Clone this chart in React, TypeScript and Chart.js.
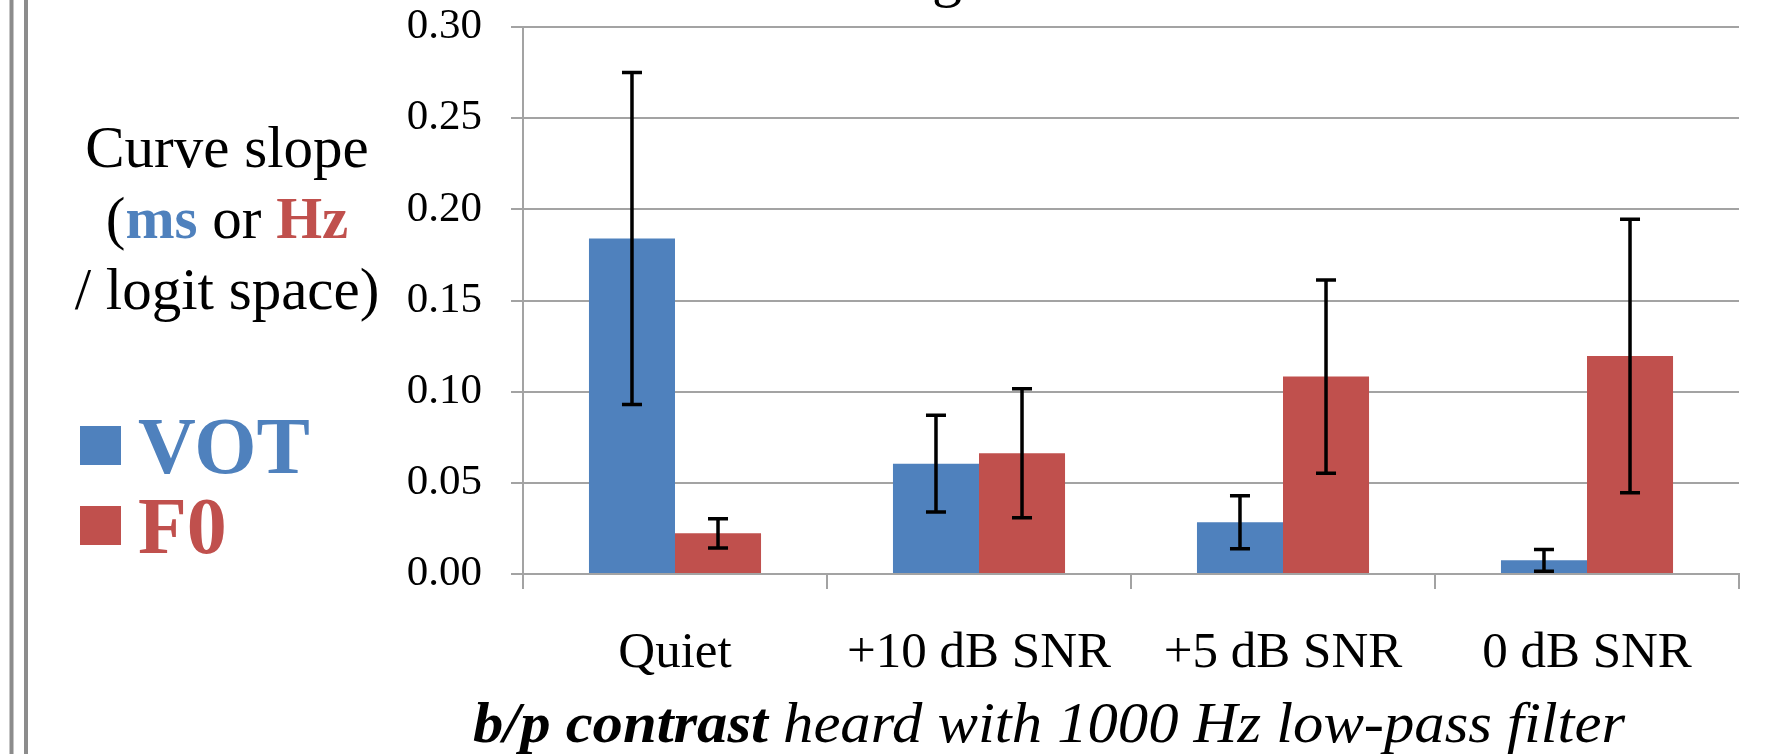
import React, { useEffect, useRef } from "react";
import { Chart, registerables } from "chart.js";

Chart.register(...registerables);

const categories = ["Quiet", "+10 dB SNR", "+5 dB SNR", "0 dB SNR"];
const seriesNames = ["VOT", "F0"];
const votValues = [0.184, 0.0605, 0.0284, 0.0075];
const votErrors = [0.091, 0.0265, 0.0145, 0.006];
const f0Values = [0.0223, 0.0662, 0.1083, 0.1196];
const f0Errors = [0.008, 0.0354, 0.053, 0.075];
const yTicks = [0, 0.05, 0.1, 0.15, 0.2, 0.25, 0.3];
const yTitleLine1 = "Curve slope";
const yTitleLine2 = [
  { text: "(", bold: false, color: "#000000" },
  { text: "ms", bold: true, color: "#4F81BD" },
  { text: " or ", bold: false, color: "#000000" },
  { text: "Hz", bold: true, color: "#C0504D" },
];
const yTitleLine3 = "/ logit space)";
const xTitleBold = "b/p contrast";
const xTitleRest = " heard with 1000 Hz low-pass filter";
const topTitleFragment = "g";

const BLUE = "#4F81BD";
const RED = "#C0504D";
const GRID = "#a3a3a3";
const SERIF = "'Liberation Serif', 'Times New Roman', serif";

const overlayPlugin = {
  id: "overlay",
  beforeDraw(chart: any) {
    const ctx = chart.ctx;
    ctx.save();
    ctx.fillStyle = "#ffffff";
    ctx.fillRect(0, 0, chart.width, chart.height);
    ctx.restore();
  },
  afterDatasetsDraw(chart: any) {
    const ctx = chart.ctx;
    const yScale = chart.scales.y;
    const errs = [votErrors, f0Errors];
    const vals = [votValues, f0Values];
    ctx.save();
    ctx.strokeStyle = "#000000";
    ctx.lineWidth = 3.5;
    ctx.lineCap = "butt";
    for (let i = 0; i < 2; i++) {
      const meta = chart.getDatasetMeta(i);
      meta.data.forEach((bar: any, j: number) => {
        const v = vals[i][j];
        const e = errs[i][j];
        const x = bar.x;
        const yT = yScale.getPixelForValue(v + e);
        const yB = yScale.getPixelForValue(Math.max(0, v - e));
        ctx.beginPath();
        ctx.moveTo(x, yT);
        ctx.lineTo(x, yB);
        ctx.moveTo(x - 10, yT);
        ctx.lineTo(x + 10, yT);
        ctx.moveTo(x - 10, yB);
        ctx.lineTo(x + 10, yB);
        ctx.stroke();
      });
    }
    ctx.restore();
  },
  afterDraw(chart: any) {
    const ctx = chart.ctx;
    ctx.save();
    // left double border
    ctx.strokeStyle = "#8c8c8c";
    ctx.lineWidth = 4;
    ctx.beginPath();
    ctx.moveTo(11.5, 0);
    ctx.lineTo(11.5, chart.height);
    ctx.moveTo(26, 0);
    ctx.lineTo(26, chart.height);
    ctx.stroke();

    // fragment of cut-off title
    ctx.fillStyle = "#000000";
    ctx.textAlign = "center";
    ctx.textBaseline = "alphabetic";
    ctx.font = `60px ${SERIF}`;
    ctx.fillText(topTitleFragment, 947, -5);

    // y title
    const cx = 227;
    ctx.font = `59px ${SERIF}`;
    ctx.fillText(yTitleLine1, cx, 167);
    ctx.fillText(yTitleLine3, cx, 309);
    let total = 0;
    const widths: number[] = [];
    yTitleLine2.forEach((r) => {
      ctx.font = `${r.bold ? "bold " : ""}59px ${SERIF}`;
      const w = ctx.measureText(r.text).width;
      widths.push(w);
      total += w;
    });
    let x = cx - total / 2;
    ctx.textAlign = "left";
    yTitleLine2.forEach((r, i) => {
      ctx.font = `${r.bold ? "bold " : ""}59px ${SERIF}`;
      ctx.fillStyle = r.color;
      ctx.fillText(r.text, x, 238);
      x += widths[i];
    });

    // legend
    const legendColors = [BLUE, RED];
    const legendY = [426, 506];
    const legendBase = [473, 553];
    seriesNames.forEach((name, i) => {
      ctx.fillStyle = legendColors[i];
      ctx.fillRect(80, legendY[i], 41, 39);
      ctx.font = `bold 80px ${SERIF}`;
      ctx.fillText(name, 138, legendBase[i]);
    });

    // x title
    ctx.fillStyle = "#000000";
    const fb = `italic bold 58px ${SERIF}`;
    const fr = `italic 58px ${SERIF}`;
    ctx.font = fb;
    const w1 = ctx.measureText(xTitleBold).width;
    ctx.font = fr;
    const w2 = ctx.measureText(xTitleRest).width;
    const sx = 1152 / (w1 + w2);
    ctx.translate(473, 742);
    ctx.scale(sx, 1);
    ctx.font = fb;
    ctx.fillText(xTitleBold, 0, 0);
    ctx.font = fr;
    ctx.fillText(xTitleRest, w1, 0);
    ctx.restore();
  },
};

export default function App() {
  const ref = useRef<HTMLCanvasElement | null>(null);
  useEffect(() => {
    document.body.style.margin = "0";
    const canvas = ref.current!;
    const chart = new Chart(canvas, {
      type: "bar",
      data: {
        labels: categories,
        datasets: [
          {
            label: seriesNames[0],
            data: votValues,
            backgroundColor: BLUE,
            borderWidth: 0,
            categoryPercentage: 0.566,
            barPercentage: 1.0,
          },
          {
            label: seriesNames[1],
            data: f0Values,
            backgroundColor: RED,
            borderWidth: 0,
            categoryPercentage: 0.566,
            barPercentage: 1.0,
          },
        ],
      },
      options: {
        responsive: false,
        animation: false,
        devicePixelRatio: 1,
        layout: { padding: { top: 27, right: 51, bottom: 0, left: 0 } },
        plugins: {
          legend: { display: false },
          tooltip: { enabled: false },
          title: { display: false },
        },
        scales: {
          x: {
            type: "category",
            offset: true,
            afterFit: (s: any) => {
              s.height = 180;
              s.paddingLeft = 0;
              s.paddingRight = 0;
            },
            grid: {
              offset: true,
              drawOnChartArea: false,
              drawTicks: true,
              tickLength: 15,
              color: GRID,
              lineWidth: 2,
            },
            border: { display: true, color: GRID, width: 2 },
            ticks: {
              color: "#000000",
              font: { family: SERIF, size: 51 },
              padding: 34,
              maxRotation: 0,
              autoSkip: false,
            },
          },
          y: {
            min: 0,
            max: 0.3,
            afterFit: (s: any) => {
              s.width = 523;
              s.paddingTop = 0;
              s.paddingBottom = 0;
            },
            afterBuildTicks: (s: any) => {
              s.ticks = yTicks.map((v) => ({ value: v }));
            },
            grid: {
              color: GRID,
              lineWidth: 2,
              drawTicks: true,
              tickLength: 12,
            },
            border: { display: true, color: GRID, width: 2 },
            ticks: {
              color: "#000000",
              font: { family: SERIF, size: 43 },
              padding: 29,
              callback: (v: any) => Number(v).toFixed(2),
            },
          },
        },
      },
      plugins: [overlayPlugin],
    });
    return () => chart.destroy();
  }, []);
  return (
    <div style={{ position: "fixed", left: 0, top: 0, width: 1790, height: 754, background: "#fff" }}>
      <canvas ref={ref} width={1790} height={754} style={{ width: 1790, height: 754, display: "block" }} />
    </div>
  );
}
